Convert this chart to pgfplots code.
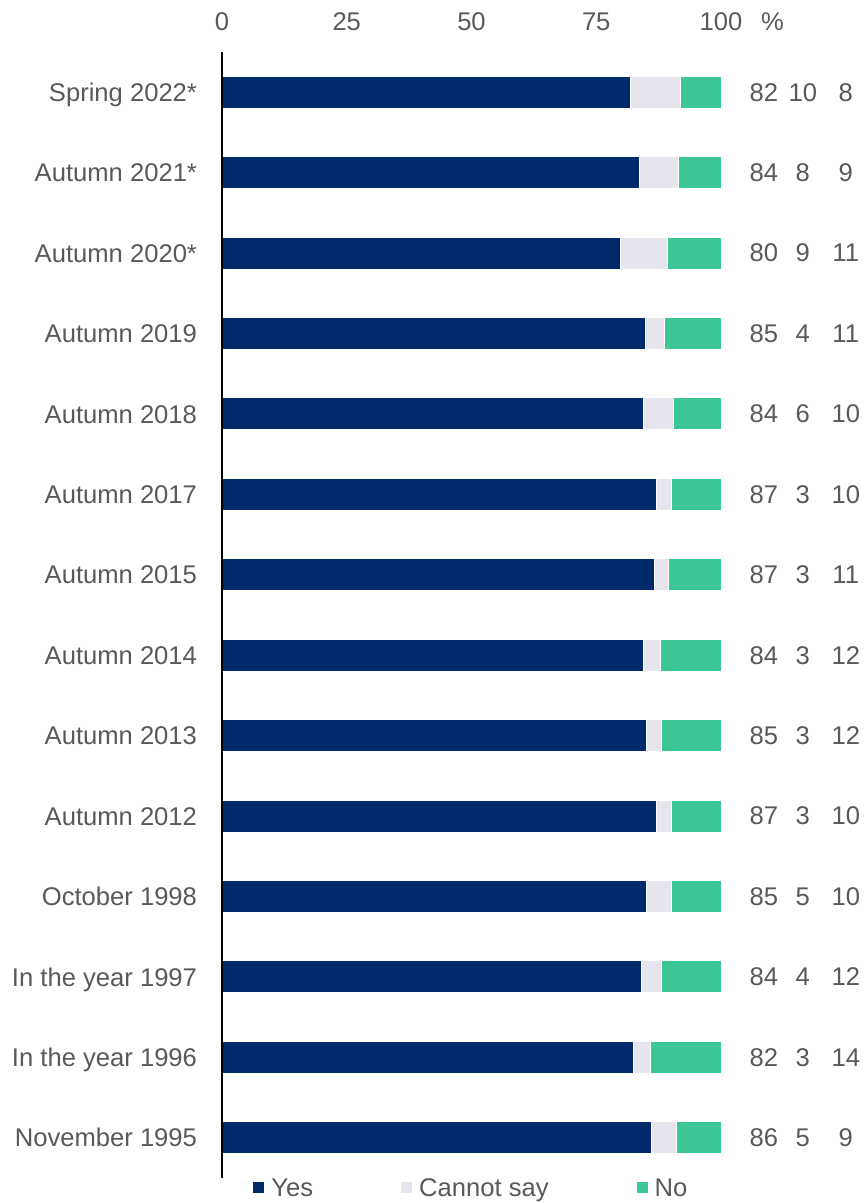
\documentclass[border=0pt]{standalone}
\usepackage{pgfplots}
\usepackage{pgfplotstable}
\pgfplotsset{compat=1.18}
\usepackage{fontspec}
\setmainfont{Liberation Sans}
\definecolor{cyes}{HTML}{002A6B}
\definecolor{ccs}{HTML}{E6E4EC}
\definecolor{cno}{HTML}{3DC797}
\definecolor{ctext}{HTML}{595959}

\pgfplotstableread{
y yes cs no ly lc ln
0 81.9 10.0 8.1 82 10 8
1 83.6 7.9 8.5 84 8 9
2 79.8 9.5 10.7 80 9 11
3 84.9 3.8 11.3 85 4 11
4 84.4 6.0 9.6 84 6 10
5 87.0 3.1 9.9 87 3 10
6 86.7 2.8 10.5 87 3 11
7 84.4 3.4 12.2 84 3 12
8 85.0 3.1 11.9 85 3 12
9 87.0 3.1 9.9 87 3 10
10 85.0 5.1 9.9 85 5 10
11 84.0 4.1 11.9 84 4 12
12 82.4 3.4 14.2 82 3 14
13 86.0 5.1 8.9 86 5 9
}\data

\begin{document}
\fontsize{12.8}{15}\selectfont
\begin{tikzpicture}[font=\fontsize{12.8}{15}\selectfont]
\begin{axis}[name=ax, scale only axis, width=249.5pt, height=563pt,
  xbar stacked, bar width=16pt,
  xmin=0, xmax=100, ymin=-0.5, ymax=13.5, y dir=reverse,
  axis y line*=left, axis x line*=top,
  axis on top,
  x axis line style={draw=none},
  y axis line style={-, black, line width=1pt},
  xtick={0,25,50,75,100}, major tick length=0pt,
  ytick={0,...,13},
  yticklabels={Spring 2022*, Autumn 2021*, Autumn 2020*, Autumn 2019, Autumn 2018, Autumn 2017, Autumn 2015, Autumn 2014, Autumn 2013, Autumn 2012, October 1998, In the year 1997, In the year 1996, November 1995},
  tick label style={font=\fontsize{12.8}{15}\selectfont, text=ctext},
  xticklabel style={anchor=base, yshift=10.6pt},
  yticklabel style={anchor=east, text height=0.716em, text depth=0pt, inner sep=0pt, xshift=-12.3pt},
  /pgf/number format/assume math mode=true,
  clip=false,
  legend style={draw=none, fill=none, inner sep=0pt, font=\fontsize{12.8}{15}\selectfont, text=ctext,
    at={(axis description cs:0.0601,0)}, anchor=west, yshift=-4.5pt,
    nodes={inner sep=0pt, text height=0.716em, text depth=0pt},
    /tikz/every odd column/.append style={column sep=3pt},
    /tikz/every even column/.append style={column sep=43.5pt}},
  legend columns=3,
  legend image code/.code={\fill[#1] (0pt,-3pt) rectangle (6pt,3pt);},
]
\addplot[fill=cyes, draw=white, line width=0.5pt] table[x=yes, y=y]{\data};
\addplot[fill=ccs, draw=white, line width=0.5pt] table[x=cs, y=y]{\data};
\addplot[fill=cno, draw=white, line width=0.5pt] table[x=no, y=y]{\data};
\legend{Yes, Cannot say, No}
\pgfplotsforeachungrouped \i in {0,...,13}{%
  \pgfplotstablegetelem{\i}{ly}\of\data \let\va\pgfplotsretval
  \pgfplotstablegetelem{\i}{lc}\of\data \let\vb\pgfplotsretval
  \pgfplotstablegetelem{\i}{ln}\of\data \let\vc\pgfplotsretval
  \edef\temp{\noexpand\node[text=ctext] at (axis cs:108.6,\i) {\va};
    \noexpand\node[text=ctext] at (axis cs:116.4,\i) {\vb};
    \noexpand\node[text=ctext] at (axis cs:125,\i) {\vc};}%
  \temp
}
\node[text=ctext, anchor=base, yshift=10.6pt] at (axis cs:110.3,-0.5) {\%};
\end{axis}
\pgfresetboundingbox
\path[use as bounding box] ([shift={(-111pt,-12.5pt)}]ax.south west) rectangle ([shift={(321.5pt,589pt)}]ax.south west);
\end{tikzpicture}
\end{document}
